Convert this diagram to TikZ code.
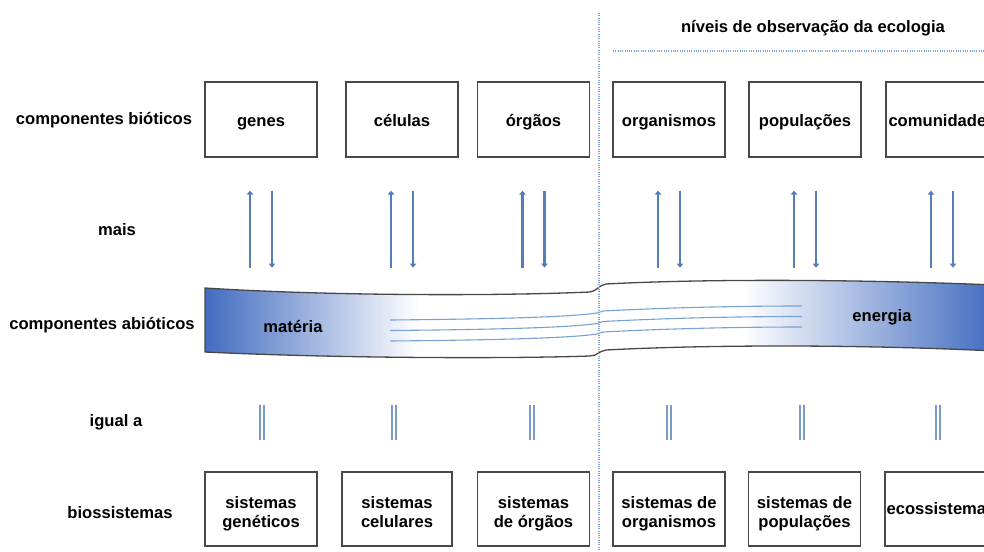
\documentclass[tikz,border=0pt]{standalone}
\usepackage{fontspec}
\setmainfont{Liberation Sans}
\usetikzlibrary{arrows.meta}

\definecolor{bandblue}{RGB}{66,108,192}
\definecolor{dotblue}{RGB}{118,164,222}
\definecolor{arrowblue}{RGB}{84,126,184}
\definecolor{eqblue}{RGB}{122,154,200}
\definecolor{fioblue}{RGB}{120,162,212}
\definecolor{boxgray}{RGB}{72,72,72}
\pgfdeclarehorizontalshading{bandshade}{100bp}{color(0bp)=(bandblue); color(25bp)=(bandblue);
  color(38.5bp)=(white); color(59bp)=(white); color(75bp)=(bandblue); color(100bp)=(bandblue)}

\tikzset{x=1pt, y=-1pt, node font=\fontsize{16.6}{19}\selectfont\bfseries,
  nivel/.style={draw=boxgray, line width=1.3, minimum width=112, minimum height=75, align=center, inner sep=0},
  topo/.style={nivel, text height=16.5, text depth=3.5},
  base/.style={nivel, minimum height=74, text height=40, text depth=4},
  sobe/.style={arrowblue, line width=2.6, -{Triangle[length=4,width=6.5]}},
  igual/.style={eqblue, line width=1.8},
  fio/.style={fioblue, line width=1.1},
  pontos/.style={dotblue, line width=1.1, dash pattern=on 1pt off 1.3pt}}

\begin{document}
\begin{tikzpicture}
  \useasboundingbox (0,0) rectangle (984,551);
  \clip (0,0) rectangle (984,551);

  % row labels
  \node (rbio) at (104,120) {componentes bióticos};
  \node (rmais) at (117,230) {mais};
  \node (rabio) at (102,325) {componentes abióticos};
  \node (rigual) at (116,422) {igual a};
  \node (rsist) at (120,513) {biossistemas};

  % biotic components
  \node [topo] (genes) at (261,119.5) {genes};
  \node [topo] (celulas) at (402,119.5) {células};
  \node [topo] (orgaos) at (533.5,119.5) {órgãos};
  \node [topo] (organismos) at (669,119.5) {organismos};
  \node [topo] (populacoes) at (805,119.5) {populações};
  \node [topo] (comunidades) at (942,119.5) {comunidades};

  % biosystems
  \node [base] (sgen) at (261,509) {sistemas\\genéticos};
  \node [base, minimum width=110] (scel) at (397,509) {sistemas\\celulares};
  \node [base] (sorg) at (533.5,509) {sistemas\\de órgãos};
  \node [base] (sorgan) at (669,509) {sistemas de\\organismos};
  \node [base] (spop) at (804.5,509) {sistemas de\\populações};
  \node [nivel, minimum height=74, text height=14, text depth=3.5] (seco) at (941,509) {ecossistemas};

  % abiotic band
  \shadedraw [shading=bandshade, draw=boxgray, line width=1.3]
    (205,288) .. controls (330,296) and (500,296) .. (590,292)
    .. controls (597,291) and (599,285) .. (606,284)
    .. controls (700,279) and (850,279) .. (995,285) -- (995,351)
    .. controls (850,344) and (700,345) .. (606,350)
    .. controls (599,351) and (597,356) .. (590,356)
    .. controls (500,359) and (330,358) .. (205,352) -- cycle;
  \foreach \d in {0,10.5,21}
    \draw [fio] (390,320+\d) .. controls (500,319+\d) and (570,317+\d) .. (597,313+\d)
      -- (603,311+\d) .. controls (680,307+\d) and (750,306+\d) .. (802,306+\d);
  \node (materia) at (293,326) {matéria};
  \node (energia) at (882,317) {energia};

  % arrows and equal signs
  \foreach \n in {genes,celulas,orgaos,organismos,populacoes,comunidades} {
    \draw [sobe] ([xshift=-11]\n.south) ++(0,110) -- ++(0,-77);
    \draw [sobe] ([xshift=11]\n.south) ++(0,33) -- ++(0,77);
  }
  \foreach \n/\x in {sgen/262,scel/394,sorg/532,sorgan/669,spop/802,seco/938} {
    \draw [igual] (\x-2,405) -- (\x-2,440);
    \draw [igual] (\x+2,405) -- (\x+2,440);
  }

  % observation levels
  \draw [pontos] (599,13) -- (599,551);
  \node (niveis) at (813,28) {níveis de observação da ecologia};
  \draw [pontos] (613,51) -- (984,51);
\end{tikzpicture}
\end{document}
